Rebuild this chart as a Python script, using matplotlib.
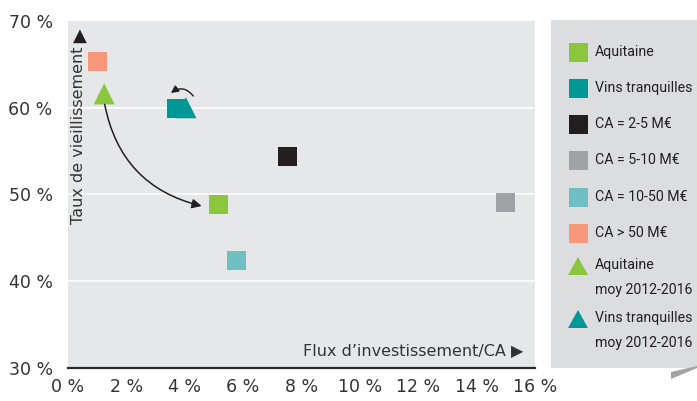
import matplotlib
matplotlib.use("Agg")
import matplotlib.pyplot as plt
from matplotlib.patches import Rectangle, Polygon, FancyArrowPatch

# Series: (flux d'investissement/CA in %, taux de vieillissement in %)
series_names = ["Aquitaine", "Vins tranquilles", "CA = 2-5 M€", "CA = 5-10 M€",
                "CA = 10-50 M€", "CA > 50 M€"]
series_x = [5.17, 3.73, 7.53, 14.98, 5.77, 1.0]
series_y = [48.8, 59.9, 54.4, 49.1, 42.4, 65.3]
series_colors = ["#8cc63f", "#009797", "#231f20", "#a1a2a5", "#70bfc2", "#f7977a"]

avg_names = ["Aquitaine\nmoy 2012-2016", "Vins tranquilles\nmoy 2012-2016"]
avg_x = [1.24, 4.04]
avg_y = [61.6, 60.0]
avg_colors = ["#8cc63f", "#009797"]

x_ticks = [0, 2, 4, 6, 8, 10, 12, 14, 16]
x_ticklabels = ["0 %", "2 %", "4 %", "6 %", "8 %", "10 %", "12 %", "14 %", "16 %"]
y_ticks = [30, 40, 50, 60, 70]
y_ticklabels = ["30 %", "40 %", "50 %", "60 %", "70 %"]

W, H = 697, 401
fig = plt.figure(figsize=(W / 100, H / 100), dpi=100)
fig.patch.set_facecolor("white")

ax = fig.add_axes([68 / W, 1 - 368 / H, (535 - 68) / W, (368 - 21) / H])
ax.set_facecolor("#e6e7e9")
ax.set_xlim(0, 16)
ax.set_ylim(30, 70)
for s in ["top", "right", "left"]:
    ax.spines[s].set_visible(False)
ax.spines["bottom"].set_color("#2b2b2b")
ax.spines["bottom"].set_linewidth(1.6)
ax.set_xticks(x_ticks)
ax.set_xticklabels(x_ticklabels)
ax.set_yticks(y_ticks)
ax.set_yticklabels(y_ticklabels)
ax.tick_params(axis="both", length=0, labelsize=12.5, colors="#333333")
ax.tick_params(axis="y", pad=11)
ax.tick_params(axis="x", pad=7)
for yv in [40, 50, 60]:
    ax.axhline(yv, color="white", lw=1.2, zorder=1)

# Average triangles drawn first, then the squares on top
for xv, yv, c in zip(avg_x, avg_y, avg_colors):
    ax.scatter([xv], [yv], marker="^", s=230, color=c, edgecolors="none", zorder=3)
for xv, yv, c in zip(series_x, series_y, series_colors):
    ax.scatter([xv], [yv], marker="s", s=190, color=c, edgecolors="none", zorder=4)

# Curved arrows from the averages to the latest values
arr1 = FancyArrowPatch((avg_x[0], avg_y[0] - 0.9), (series_x[0] - 0.5, series_y[0] - 0.2),
                       connectionstyle="arc3,rad=0.33", arrowstyle="-|>",
                       mutation_scale=14, lw=1.1, color="#231f20", zorder=5)
ax.add_patch(arr1)
arr2 = FancyArrowPatch((4.35, 61.1), (3.45, 61.5),
                       connectionstyle="arc3,rad=0.55", arrowstyle="-|>",
                       mutation_scale=11, lw=1.0, color="#231f20", zorder=5)
ax.add_patch(arr2)

# Axis titles placed inside the plot area
ax.text(0.022, 0.672, "Taux de vieillissement", transform=ax.transAxes,
        rotation=90, ha="center", va="center", fontsize=11.5, color="#333333")
ax.text(0.025, 0.958, "▲", transform=ax.transAxes, ha="center", va="center",
        fontsize=13, color="#231f20")
ax.text(0.975, 0.05, "Flux d’investissement/CA ▶", transform=ax.transAxes,
        ha="right", va="center", fontsize=11.5, color="#333333")

# Overlay in pixel coordinates for the legend panel
ov = fig.add_axes([0, 0, 1, 1], zorder=10)
ov.set_xlim(0, W)
ov.set_ylim(H, 0)
ov.axis("off")
ov.patch.set_alpha(0)
ov.add_patch(Rectangle((551, 20), 160, 348, facecolor="#dcdddf", edgecolor="none"))
ov.add_patch(Polygon([(671, 372), (671, 379), (697, 368), (697, 366)], closed=True,
                     facecolor="#a3a3a5", edgecolor="none"))

leg_font = dict(family=["Roboto", "DejaVu Sans"], fontsize=10.2,
                color="#231f20")
row_y = [52, 88, 124, 160, 197, 233]
for name, c, ry in zip(series_names, series_colors, row_y):
    ov.add_patch(Rectangle((569, ry - 9.5), 19, 19, facecolor=c, edgecolor="none"))
    ov.text(595, ry, name, ha="left", va="center", **leg_font)
tri_y = [266, 319]
for name, c, ty in zip(avg_names, avg_colors, tri_y):
    ov.add_patch(Polygon([(568, ty + 9), (588, ty + 9), (578, ty - 9)], closed=True,
                         facecolor=c, edgecolor="none"))
    ov.text(595, ty - 8, name, ha="left", va="top", linespacing=2.0, **leg_font)

fig.savefig("out.png", dpi=100)
